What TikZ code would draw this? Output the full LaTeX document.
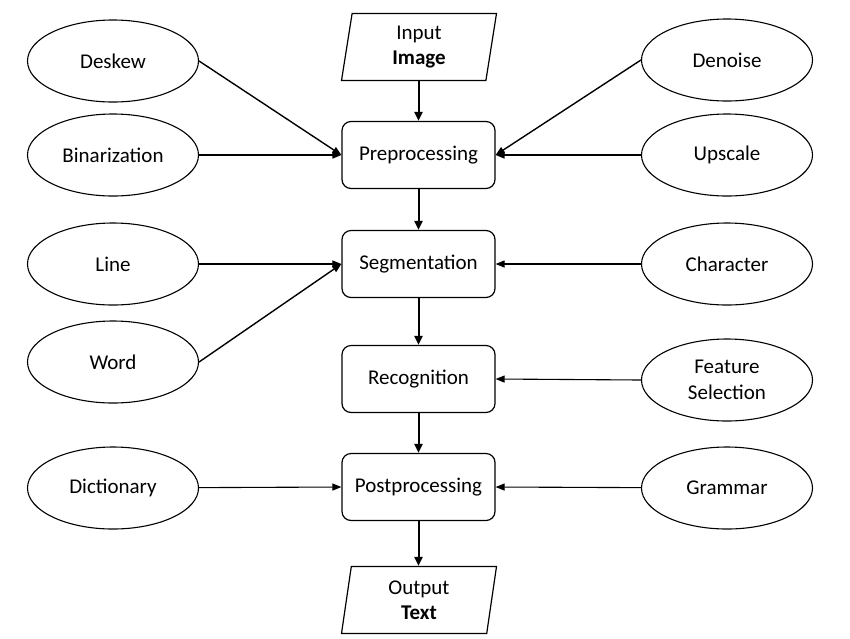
\documentclass[tikz,border=0pt]{standalone}
\usepackage{fontspec}
\setmainfont{Carlito}
\usetikzlibrary{shapes.geometric,arrows.meta}
\begin{document}
\begin{tikzpicture}[x=1pt,y=-1pt,
  font=\fontsize{21}{25}\selectfont,
  proc/.style={draw,line width=1.2pt,rounded corners=9pt,minimum width=153pt,minimum height=67pt,inner sep=0pt},
  io/.style={draw,line width=1.2pt,trapezium,trapezium left angle=76,trapezium right angle=104,trapezium stretches body=true,minimum width=155pt,minimum height=67pt,inner sep=0pt,align=center,font=\fontsize{21}{25.5}\selectfont},
  oval/.style={draw,line width=1.1pt,ellipse,minimum width=171pt,minimum height=82pt,inner sep=0pt,align=center,font=\fontsize{21}{25.5}\selectfont},
  main/.style={line width=2pt,-{Triangle[length=9pt,width=8pt]}},
  side/.style={line width=1.4pt,-{Triangle[length=9pt,width=7pt]}}]
\useasboundingbox (0,0) rectangle (850,638);
\node[io] (in) at (419,47) {Input\\\textbf{Image}};
\node[proc] (pre) at (418.5,155) {Preprocessing};
\node[proc] (seg) at (418.5,264) {Segmentation};
\node[proc] (rec) at (418.5,379) {Recognition};
\node[proc] (post) at (418.5,487) {Postprocessing};
\node[io] (out) at (419,600) {Output\\\textbf{Text}};
\node[oval] (desk) at (113,61) {Deskew};
\node[oval] (bin) at (113,155) {Binarization};
\node[oval] (line) at (113,264) {Line};
\node[oval] (word) at (113,362) {Word};
\node[oval] (dict) at (113,488) {Dictionary};
\node[oval] (den) at (727,60) {Denoise};
\node[oval] (up) at (727,155) {Upscale};
\node[oval] (char) at (727,264) {Character};
\node[oval] (feat) at (727,380) {Feature\\Selection};
\node[oval] (gram) at (727,488) {Grammar};
\draw[main] (in.south -| pre.north) -- (pre.north);
\draw[main] (pre) -- (seg);
\draw[main] (seg) -- (rec);
\draw[main] (rec) -- (post);
\draw[main] (post.south) -- (out.north -| post.south);
\draw[side] (desk.east) -- (pre.west);
\draw[side] (bin) -- (pre.west);
\draw[side] (den.west) -- (pre.east);
\draw[side] (up) -- (pre.east);
\draw[side,line width=1.1pt] (line) -- (seg.west);
\draw[side] (word.east) -- (seg.west);
\draw[side,line width=1.1pt] (char) -- (seg.east);
\draw[side,line width=1.1pt] (feat.west) -- (rec.east);
\draw[side,line width=1.1pt] (dict) -- (post.west);
\draw[side,line width=1.1pt] (gram) -- (post.east);
\end{tikzpicture}
\end{document}
